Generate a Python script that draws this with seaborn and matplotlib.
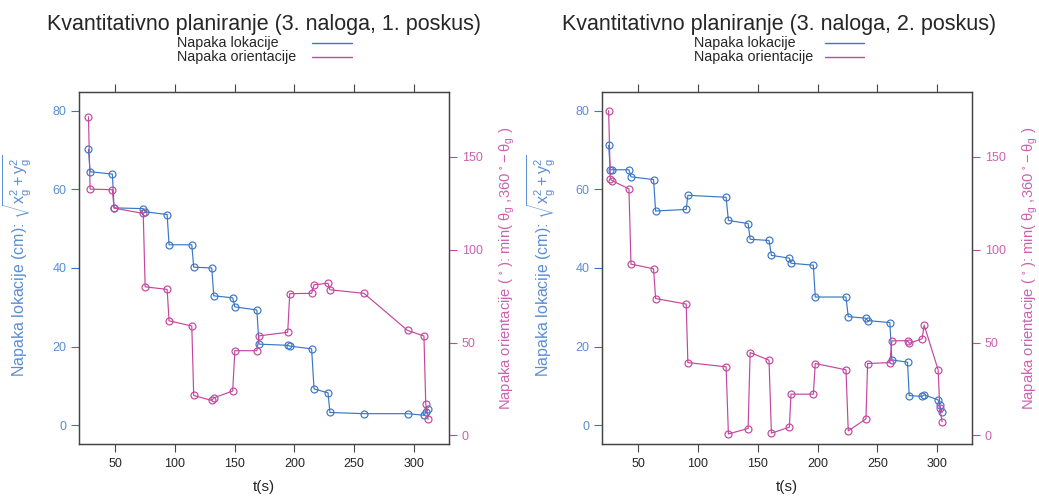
import numpy as np
import pandas as pd
import matplotlib
matplotlib.use("Agg")
import matplotlib.pyplot as plt
import seaborn as sns
from matplotlib.lines import Line2D

# ---------------- data ----------------
titles = ["Kvantitativno planiranje (3. naloga, 1. poskus)",
          "Kvantitativno planiranje (3. naloga, 2. poskus)"]
series_names = ["Napaka lokacije", "Napaka orientacije"]

t1 = [27.8, 29.2, 47.8, 49.2, 73.6, 75.2, 93.6, 95.2, 114.2, 115.8, 130.9, 132.6,
      148.4, 150.2, 168.6, 170.4, 194.4, 196.1, 214.4, 216.4, 228.1, 229.7, 258.1,
      294.6, 308.3, 309.8, 311.8]
loc1 = [70.2, 64.5, 63.9, 55.3, 55.1, 54.3, 53.6, 45.9, 45.9, 40.2, 40.0, 32.9,
        32.4, 30.1, 29.3, 20.6, 20.3, 20.1, 19.4, 9.2, 8.2, 3.2, 2.9, 2.9, 2.5, 3.2, 4.0]
ori1 = [171.6, 132.6, 132.3, 122.4, 119.5, 80.0, 78.6, 61.7, 58.9, 21.5, 18.8, 20.2,
        23.9, 45.6, 45.6, 53.6, 55.5, 76.3, 76.5, 81.1, 81.9, 78.4, 76.5, 56.5, 53.5,
        16.9, 8.6]

t2 = [25.2, 26.6, 28.0, 42.2, 43.9, 62.8, 64.5, 90.1, 91.5, 123.5, 125.4, 141.9,
      143.6, 159.4, 161.4, 176.4, 177.8, 196.5, 198.1, 223.8, 225.7, 240.5, 241.9,
      260.5, 262.2, 275.3, 276.7, 287.5, 289.2, 300.9, 302.3, 304.2]
loc2 = [71.2, 65.0, 65.0, 65.0, 63.2, 62.5, 54.5, 54.9, 58.5, 58.0, 52.1, 51.3,
        47.3, 47.0, 43.2, 42.5, 41.2, 40.7, 32.6, 32.6, 27.6, 27.2, 26.6, 26.1,
        16.6, 16.0, 7.5, 7.3, 7.7, 6.4, 5.0, 3.2]
ori2 = [174.9, 138.1, 137.2, 132.7, 92.2, 89.7, 73.7, 70.7, 39.2, 36.9, 0.8, 3.7,
        44.6, 40.5, 1.2, 4.4, 22.2, 22.2, 38.7, 35.3, 2.4, 8.9, 38.7, 39.2, 50.9,
        51.0, 49.6, 52.0, 59.4, 35.3, 14.9, 7.3]

x_ticks = [50, 100, 150, 200, 250, 300]
loc_ticks = [0, 20, 40, 60, 80]
ori_ticks = [0, 50, 100, 150]

# ---------------- style ----------------
sns.set_style("ticks")
plt.rcParams['font.family'] = ['Liberation Sans', 'DejaVu Sans']
plt.rcParams['mathtext.fontset'] = 'custom'
plt.rcParams['mathtext.rm'] = 'Liberation Sans'
plt.rcParams['mathtext.it'] = 'Liberation Sans'
plt.rcParams['mathtext.sf'] = 'Liberation Sans'
plt.rcParams['mathtext.default'] = 'regular'

BLUE = '#3b76c6'
BLUE_TXT = '#5b8dd3'
MAG = '#c2479f'
MAG_TXT = '#cc62b0'
FRAME = '#444444'
TXT = '#262626'

W, H = 1039, 497
fig = plt.figure(figsize=(W / 100, H / 100), dpi=100)


def fx(px):
    return px / W


def fy(py):
    return 1 - py / H


panels = [
    dict(t=t1, loc=loc1, ori=ori1, left=79.0, right=449.3, title=titles[0],
         title_x=264, leg_x=177, leg_l0=312, leg_l1=352),
    dict(t=t2, loc=loc2, ori=ori2, left=602.3, right=972.3, title=titles[1],
         title_x=779, leg_x=694, leg_l0=825, leg_l1=864),
]
top_px, bot_px = 92.0, 444.3

for p in panels:
    ax = fig.add_axes([fx(p['left']), fy(bot_px), fx(p['right'] - p['left']),
                       (bot_px - top_px) / H])
    ax2 = ax.twinx()
    df = pd.DataFrame({'t': p['t'], 'loc': p['loc'], 'ori': p['ori']})
    sns.lineplot(data=df, x='t', y='loc', ax=ax, color=BLUE, lw=0.85,
                 marker='o', mfc='none', mec=BLUE, mew=0.85, ms=5.0,
                 estimator=None, sort=False)
    sns.lineplot(data=df, x='t', y='ori', ax=ax2, color=MAG, lw=0.85,
                 marker='o', mfc='none', mec=MAG, mew=0.85, ms=5.0,
                 estimator=None, sort=False)
    ax.set_xlim(19.9, 329.5)
    ax.set_ylim(-4.9, 84.8)
    ax2.set_ylim(-4.8, 184.9)
    ax.set_xlabel('')
    ax.set_ylabel('')
    ax2.set_ylabel('')
    ax.set_xticks(x_ticks)
    ax.set_yticks(loc_ticks)
    ax2.set_yticks(ori_ticks)
    ax.tick_params(axis='x', direction='out', length=6, width=0.8, colors=FRAME,
                   labelcolor=TXT, labelsize=9, top=True, labeltop=False, pad=4)
    ax.tick_params(axis='y', direction='out', length=6, width=0.8, colors=BLUE,
                   labelcolor=BLUE_TXT, labelsize=9, right=False, pad=3)
    ax2.tick_params(axis='y', direction='out', length=6, width=0.8, colors=MAG,
                    labelcolor=MAG_TXT, labelsize=9, left=False, pad=3)
    for a in (ax, ax2):
        for s in a.spines.values():
            s.set_color(FRAME)
            s.set_linewidth(0.9)

    cx = (p['left'] + p['right']) / 2
    cy = (top_px + bot_px) / 2
    fig.text(fx(cx), fy(487), 't(s)', ha='center', va='center', fontsize=11, color=TXT)
    fig.text(fx(p['left'] - 61), fy(cy - 2),
             r'Napaka lokacije (cm): $\sqrt{x_g^2+y_g^2}$',
             rotation=90, ha='center', va='center', fontsize=11.5, color=BLUE_TXT)
    fig.text(fx(p['right'] + 58), fy(cy),
             r'Napaka orientacije ( $^{\circ}$ ): min( $\theta_g$ ,360 $^{\circ}-\theta_g$ )',
             rotation=90, ha='center', va='center', fontsize=10.6, color=MAG_TXT)
    fig.text(fx(p['title_x']), fy(30), p['title'], ha='center', va='baseline',
             fontsize=15.5, color=TXT)
    for i, (name, col, ly, by) in enumerate(zip(series_names, [BLUE, MAG],
                                                  [43, 57], [47.5, 60.5])):
        fig.text(fx(p['leg_x']), fy(by), name, ha='left', va='baseline',
                 fontsize=10.3, color=TXT)
        fig.add_artist(Line2D([fx(p['leg_l0']), fx(p['leg_l1'])], [fy(ly), fy(ly)],
                              color=col, lw=1.0, transform=fig.transFigure))

fig.savefig('out.png', dpi=100)
